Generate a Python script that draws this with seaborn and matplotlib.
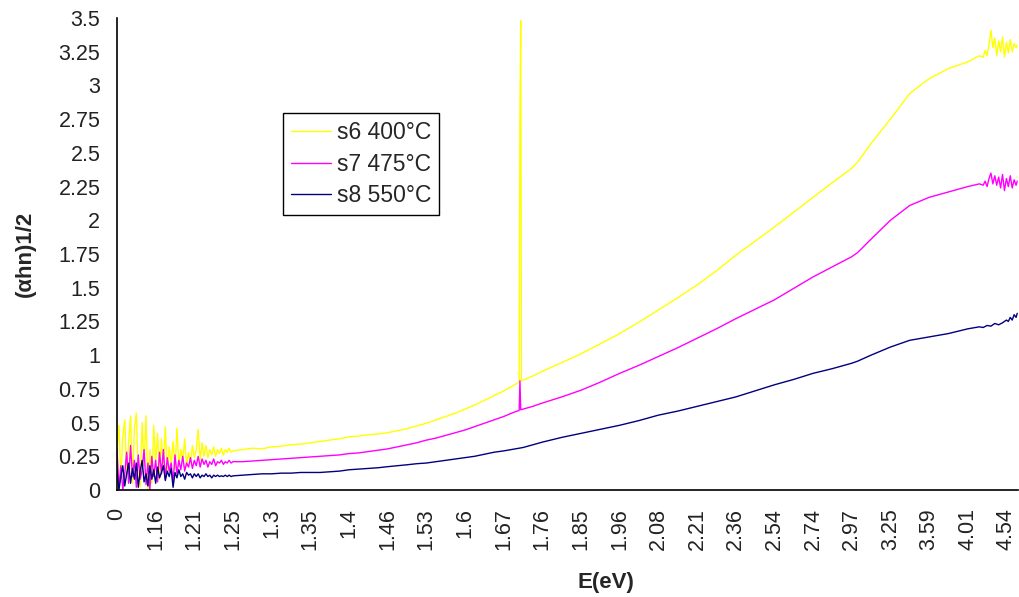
import numpy as np
import pandas as pd
import matplotlib
matplotlib.use("Agg")
import matplotlib.pyplot as plt
import seaborn as sns
from matplotlib.ticker import FuncFormatter

# Category axis labels (Excel-style line chart, evenly spaced categories)
ENERGY_LABELS = ["0", "1.16", "1.21", "1.25", "1.3", "1.35", "1.4", "1.46", "1.53",
                 "1.6", "1.67", "1.76", "1.85", "1.96", "2.08", "2.21", "2.36",
                 "2.54", "2.74", "2.97", "3.25", "3.59", "4.01", "4.54"]

SERIES_NAMES = ["s6 400°C", "s7 475°C", "s8 550°C"]
SERIES_COLORS = ["#FFFF00", "#FF00FF", "#000080"]

# noisy low-energy part, positions in category-tick units
noise_x = [0.00, 0.05, 0.10, 0.15, 0.20, 0.25, 0.30, 0.35, 0.40, 0.45,
           0.50, 0.55, 0.60, 0.65, 0.70, 0.75, 0.80, 0.85, 0.90, 0.95,
           1.00, 1.05, 1.10, 1.15, 1.20, 1.25, 1.30, 1.35, 1.40, 1.45,
           1.50, 1.55, 1.60, 1.65, 1.70, 1.75, 1.80, 1.85, 1.90, 1.95,
           2.00, 2.05, 2.10, 2.15, 2.20, 2.25, 2.30, 2.35, 2.40, 2.45,
           2.50, 2.55, 2.60, 2.65, 2.70, 2.75, 2.80, 2.85, 2.90, 2.95,
           3.00]
s6_noise = [0.30, 0.48, 0.08, 0.40, 0.52, 0.12, 0.35, 0.55, 0.05, 0.45,
            0.57, 0.10, 0.02, 0.50, 0.18, 0.55, 0.00, 0.30, 0.05, 0.48,
            0.20, 0.42, 0.08, 0.38, 0.15, 0.47, 0.12, 0.32, 0.20, 0.36,
            0.15, 0.46, 0.18, 0.30, 0.22, 0.38, 0.18, 0.28, 0.20, 0.33,
            0.24, 0.30, 0.45, 0.22, 0.35, 0.25, 0.33, 0.24, 0.30, 0.26,
            0.32, 0.25, 0.30, 0.27, 0.31, 0.26, 0.30, 0.28, 0.31, 0.28,
            0.29]
s7_noise = [0.30, 0.02, 0.18, 0.00, 0.12, 0.28, 0.05, 0.33, 0.10, 0.22,
            0.02, 0.26, 0.08, 0.15, 0.30, 0.04, 0.20, 0.00, 0.25, 0.10,
            0.22, 0.06, 0.28, 0.12, 0.30, 0.08, 0.24, 0.14, 0.20, 0.05,
            0.26, 0.12, 0.22, 0.15, 0.25, 0.14, 0.20, 0.17, 0.24, 0.16,
            0.22, 0.18, 0.25, 0.17, 0.23, 0.19, 0.22, 0.17, 0.21, 0.19,
            0.23, 0.18, 0.21, 0.20, 0.22, 0.19, 0.21, 0.20, 0.22, 0.20,
            0.21]
s8_noise = [0.15, 0.00, 0.10, 0.18, 0.03, 0.12, 0.20, 0.05, 0.16, 0.08,
            0.20, 0.02, 0.14, 0.22, 0.06, 0.12, 0.03, 0.18, 0.08, 0.15,
            0.05, 0.17, 0.09, 0.13, 0.18, 0.07, 0.14, 0.10, 0.16, 0.02,
            0.13, 0.09, 0.15, 0.10, 0.12, 0.08, 0.13, 0.11, 0.12, 0.09,
            0.12, 0.10, 0.12, 0.09, 0.11, 0.10, 0.12, 0.10, 0.11, 0.09,
            0.11, 0.10, 0.11, 0.10, 0.105, 0.10, 0.11, 0.10, 0.11, 0.10,
            0.105]

# main part
s6_x = [3.25, 3.5, 3.75, 4.0, 4.25, 4.5, 4.75, 5.0, 5.25, 5.5, 5.75, 6.0, 6.25, 6.5, 6.75,
        7.0, 7.25, 7.5, 7.75, 8.0, 8.25, 8.5, 8.75, 9.0, 9.25, 9.5, 9.75, 10.0, 10.25, 10.4,
        10.42, 10.44, 10.46, 10.75, 11.0, 11.5, 12.0, 12.5, 13.0, 13.5, 14.0, 14.5, 15.0,
        15.5, 16.0, 16.5, 17.0, 17.5, 18.0, 18.5, 19.0, 19.15, 19.5, 20.0, 20.5, 21.0,
        21.5, 22.0, 22.3, 22.4, 22.45, 22.5, 22.55, 22.6, 22.65, 22.7, 22.75, 22.8, 22.85,
        22.9, 22.95, 23.0, 23.05, 23.1, 23.15, 23.2, 23.25, 23.28]
s6_y = [0.30, 0.31, 0.305, 0.32, 0.325, 0.335, 0.34, 0.35, 0.36, 0.37, 0.38, 0.395, 0.40,
        0.41, 0.415, 0.425, 0.44, 0.455, 0.475, 0.495, 0.52, 0.545, 0.57, 0.60, 0.63, 0.665,
        0.70, 0.735, 0.775, 0.80, 2.77, 3.48, 0.81, 0.845, 0.88, 0.945, 1.01, 1.085, 1.16,
        1.245, 1.335, 1.425, 1.52, 1.625, 1.74, 1.845, 1.95, 2.06, 2.17, 2.28, 2.385, 2.43,
        2.57, 2.75, 2.94, 3.05, 3.125, 3.175, 3.22, 3.21, 3.26, 3.22, 3.30, 3.41, 3.28, 3.35,
        3.22, 3.33, 3.25, 3.36, 3.21, 3.32, 3.24, 3.34, 3.25, 3.31, 3.28, 3.30]

s7_x = [3.25, 3.5, 3.75, 4.0, 4.25, 4.5, 4.75, 5.0, 5.25, 5.5, 5.75, 6.0, 6.25, 6.5, 6.75,
        7.0, 7.25, 7.5, 7.75, 8.0, 8.25, 8.5, 8.75, 9.0, 9.25, 9.5, 9.75, 10.0, 10.25, 10.4,
        10.42, 10.44, 10.75, 11.0, 11.5, 12.0, 12.5, 13.0, 13.5, 14.0, 14.5, 15.0, 15.5,
        16.0, 16.5, 17.0, 17.5, 18.0, 18.5, 19.0, 19.15, 19.5, 20.0, 20.5, 21.0, 21.5, 22.0,
        22.3, 22.4, 22.45, 22.5, 22.55, 22.6, 22.65, 22.7, 22.75, 22.8, 22.85, 22.9, 22.95,
        23.0, 23.05, 23.1, 23.15, 23.2, 23.25, 23.28]
s7_y = [0.21, 0.215, 0.22, 0.225, 0.23, 0.235, 0.24, 0.245, 0.25, 0.255, 0.26, 0.27, 0.275,
        0.285, 0.295, 0.305, 0.32, 0.335, 0.35, 0.37, 0.385, 0.405, 0.425, 0.445, 0.47,
        0.495, 0.52, 0.545, 0.575, 0.59, 0.81, 0.595, 0.62, 0.645, 0.69, 0.74, 0.80, 0.865,
        0.925, 0.99, 1.055, 1.125, 1.195, 1.27, 1.34, 1.41, 1.495, 1.58, 1.655, 1.73, 1.76,
        1.86, 2.0, 2.11, 2.17, 2.21, 2.25, 2.27, 2.26, 2.29, 2.25, 2.31, 2.35, 2.27, 2.33,
        2.26, 2.32, 2.24, 2.34, 2.22, 2.31, 2.25, 2.33, 2.24, 2.30, 2.26, 2.29]

s8_x = [3.25, 3.5, 3.75, 4.0, 4.25, 4.5, 4.75, 5.0, 5.25, 5.5, 5.75, 6.0, 6.25, 6.5, 6.75,
        7.0, 7.25, 7.5, 7.75, 8.0, 8.25, 8.5, 8.75, 9.0, 9.25, 9.5, 9.75, 10.0, 10.5, 11.0,
        11.5, 12.0, 12.5, 13.0, 13.5, 14.0, 14.5, 15.0, 15.5, 16.0, 16.5, 17.0, 17.5, 18.0,
        18.5, 19.0, 19.15, 19.5, 20.0, 20.5, 21.0, 21.5, 22.0, 22.3, 22.4, 22.5, 22.6, 22.7,
        22.8, 22.9, 23.0, 23.05, 23.1, 23.15, 23.2, 23.25, 23.28]
s8_y = [0.11, 0.115, 0.12, 0.12, 0.125, 0.125, 0.13, 0.13, 0.13, 0.135, 0.14, 0.15, 0.155,
        0.16, 0.165, 0.173, 0.18, 0.187, 0.195, 0.20, 0.21, 0.22, 0.23, 0.24, 0.25, 0.265,
        0.28, 0.29, 0.315, 0.355, 0.39, 0.42, 0.45, 0.48, 0.515, 0.555, 0.585, 0.62, 0.655,
        0.69, 0.735, 0.78, 0.82, 0.865, 0.90, 0.94, 0.955, 1.0, 1.06, 1.11, 1.135, 1.16,
        1.195, 1.21, 1.205, 1.22, 1.215, 1.235, 1.225, 1.24, 1.26, 1.25, 1.28, 1.26, 1.30,
        1.28, 1.31]


def build_frame():
    parts = []
    for name, nx, ny, mx, my in [
        (SERIES_NAMES[0], noise_x, s6_noise, s6_x, s6_y),
        (SERIES_NAMES[1], noise_x, s7_noise, s7_x, s7_y),
        (SERIES_NAMES[2], noise_x, s8_noise, s8_x, s8_y),
    ]:
        parts.append(pd.DataFrame({"pos": list(nx) + list(mx),
                                   "val": list(ny) + list(my),
                                   "series": name}))
    return pd.concat(parts, ignore_index=True)


def main():
    sns.set_theme(style="white")
    plt.rcParams["font.family"] = ["Liberation Sans", "DejaVu Sans"]

    df = build_frame()

    fig = plt.figure(figsize=(10.2, 5.97), dpi=100)
    ax = fig.add_axes([117 / 1020, 107 / 597, 901 / 1020, 472 / 597])

    sns.lineplot(data=df, x="pos", y="val", hue="series", hue_order=SERIES_NAMES,
                 palette=dict(zip(SERIES_NAMES, SERIES_COLORS)), estimator=None,
                 sort=False, linewidth=1.0, ax=ax)

    ax.set_xlim(0, 23.3)
    ax.set_ylim(0, 3.5)
    ax.set_xticks(np.arange(len(ENERGY_LABELS)))
    ax.set_xticklabels(ENERGY_LABELS, rotation=90)
    ax.set_yticks(np.arange(0, 3.51, 0.25))
    ax.yaxis.set_major_formatter(FuncFormatter(lambda v, p: f"{v:g}"))

    for side in ["top", "right"]:
        ax.spines[side].set_visible(False)
    for side in ["left", "bottom"]:
        ax.spines[side].set_color("black")
        ax.spines[side].set_linewidth(1.2)

    ax.tick_params(axis="both", which="major", direction="out", length=5, width=1.0,
                   color="black", labelsize=15.5, labelcolor="#222222")
    ax.tick_params(axis="y", pad=7)
    ax.tick_params(axis="x", pad=8)

    ax.set_xlabel("E(eV)", fontsize=16, fontweight="bold")
    ax.set_ylabel("(αhn)1/2", fontsize=16, fontweight="bold")
    ax.xaxis.set_label_coords(0.543, -0.174)
    ax.yaxis.set_label_coords(-0.09, 0.5)

    leg = ax.legend(loc="upper left", bbox_to_anchor=(0.184, 0.799), borderaxespad=0,
                    fontsize=16.5, frameon=True, fancybox=False, edgecolor="black",
                    framealpha=1, handlelength=1.75, handletextpad=0.25, labelspacing=0.38,
                    borderpad=0.35)
    leg.get_frame().set_linewidth(1.0)
    for line in leg.get_lines():
        line.set_linewidth(1.0)

    fig.savefig("out.png", dpi=100)
    plt.close(fig)


if __name__ == "__main__":
    main()
